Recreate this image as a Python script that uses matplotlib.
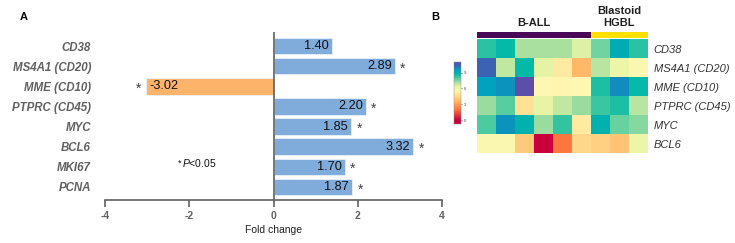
import matplotlib
matplotlib.use("Agg")
import matplotlib.pyplot as plt
import numpy as np
from matplotlib.colors import LinearSegmentedColormap, ListedColormap

plt.rcParams['font.family'] = ['Liberation Sans', 'DejaVu Sans']
plt.rcParams['mathtext.fontset'] = 'custom'
plt.rcParams['mathtext.it'] = 'Liberation Sans:italic'
plt.rcParams['mathtext.rm'] = 'Liberation Sans'

# ---- Panel A data ----
genes_a = ["CD38", "MS4A1 (CD20)", "MME (CD10)", "PTPRC (CD45)", "MYC", "BCL6", "MKI67", "PCNA"]
fold_change = [1.40, 2.89, -3.02, 2.20, 1.85, 3.32, 1.70, 1.87]
significant = [False, True, True, True, True, True, True, True]
xticks_a = [-4, -2, 0, 2, 4]

# ---- Panel B data ----
genes_b = ["CD38", "MS4A1 (CD20)", "MME (CD10)", "PTPRC (CD45)", "MYC", "BCL6"]
groups = ["B-ALL"] * 6 + ["Blastoid\nHGBL"] * 3
expr = [
    [8.2, 8.6, 7.0, 7.0, 7.0, 6.4, 7.5, 9.0, 8.2],
    [10.2, 6.7, 8.6, 6.3, 5.0, 3.5, 6.8, 6.0, 5.6],
    [9.3, 9.5, 10.8, 5.5, 5.4, 5.5, 8.3, 9.6, 8.6],
    [7.1, 7.7, 4.7, 6.2, 6.7, 7.1, 8.0, 8.3, 6.8],
    [7.8, 9.5, 8.8, 7.1, 8.1, 5.0, 8.8, 7.6, 7.3],
    [5.6, 5.6, 4.0, 0.0, 2.0, 4.4, 4.2, 3.8, 6.0],
]
cbar_ticks = [0, 3, 6, 9]

fig = plt.figure(figsize=(7.35, 2.43), dpi=100)
W, H = 735, 243

def ax_px(x0, y0, x1, y1):
    return fig.add_axes([x0 / W, 1 - y1 / H, (x1 - x0) / W, (y1 - y0) / H])

# ---------------- Panel A ----------------
axA = ax_px(105, 32, 442, 200)
n = len(genes_a)
ypos = np.arange(n)
colors = ["#fdb46a" if v < 0 else "#80acdc" for v in fold_change]
axA.barh(ypos, fold_change, height=0.82, color=colors, edgecolor="#e8f0f8", linewidth=0.6, zorder=2)
axA.set_xlim(-4, 4)
axA.set_ylim(n - 0.35, -0.7)
axA.set_yticks(ypos)
axA.set_yticklabels(genes_a, fontsize=8.3, fontweight="bold", fontstyle="italic", color="#606060")
axA.tick_params(axis="y", length=0, pad=10)
axA.set_xticks(xticks_a)
axA.set_xticklabels([str(t) for t in xticks_a], fontsize=7.5, fontweight="bold", color="#606060")
axA.tick_params(axis="x", length=5, width=1.2, color="#606060", pad=3)
for s in ["top", "right", "left"]:
    axA.spines[s].set_visible(False)
axA.spines["bottom"].set_color("#606060")
axA.spines["bottom"].set_linewidth(1.2)
axA.axvline(0, color="#606060", lw=1.2, zorder=3)
axA.set_xlabel("Fold change", fontsize=7.5, labelpad=3, color="#202020")

for y, v, sig in zip(ypos, fold_change, significant):
    if v >= 0:
        axA.text(v - 0.08, y, f"{v:.2f}", ha="right", va="center", fontsize=9.2, color="#111111", zorder=4)
        if sig:
            axA.text(v + 0.12, y + 0.12, "*", ha="left", va="center", fontsize=10, color="#404040")
    else:
        axA.text(v + 0.08, y, f"{v:.2f}", ha="left", va="center", fontsize=9.2, color="#111111", zorder=4)
        if sig:
            axA.text(v - 0.12, y + 0.12, "*", ha="right", va="center", fontsize=10, color="#404040")

axA.text(-2.27, 5.8, "*", ha="left", va="center", fontsize=6.5, color="#111111")
axA.text(-2.18, 5.8, "$\\it{P}$<0.05", ha="left", va="center", fontsize=7.5, color="#111111")

fig.text(20 / W, 1 - 17 / H, "A", fontsize=8, fontweight="bold", ha="left", va="center")
fig.text(431 / W, 1 - 17 / H, "B", fontsize=8, fontweight="bold", ha="left", va="center")

# ---------------- Panel B ----------------
cmap = LinearSegmentedColormap.from_list("custom", [
    (0.00, "#c8003c"),
    (0.06, "#c8003c"),
    (0.24, "#ff7c40"),
    (0.36, "#ffb868"),
    (0.45, "#ffdc90"),
    (0.53, "#fff8b4"),
    (0.60, "#e4f4a4"),
    (0.66, "#a8e0a0"),
    (0.74, "#40c8a0"),
    (0.80, "#00b8a8"),
    (0.86, "#00a0c0"),
    (0.93, "#3a64b4"),
    (1.00, "#6848a8"),
])
vmin, vmax = -0.75, 11.0

axH = ax_px(477, 39, 648, 153)
data = np.array(expr)
axH.imshow(data, cmap=cmap, vmin=vmin, vmax=vmax, aspect="auto", interpolation="nearest")
axH.set_xticks([])
axH.set_yticks(range(len(genes_b)))
axH.set_yticklabels(genes_b, fontsize=8, fontstyle="italic", color="#333333")
axH.yaxis.tick_right()
axH.tick_params(axis="y", length=0, pad=4)
for s in axH.spines.values():
    s.set_visible(False)

# group annotation bar
axG = ax_px(477, 32, 648, 38)
grp_names = ["B-ALL", "Blastoid\nHGBL"]
grp_idx = [[grp_names.index(g) for g in groups]]
axG.imshow(grp_idx, cmap=ListedColormap(["#4a0858", "#ffe000"]), vmin=0, vmax=1, aspect="auto", interpolation="nearest")
axG.set_xticks([]); axG.set_yticks([])
for s in axG.spines.values():
    s.set_visible(False)
for gname in grp_names:
    cols = [i for i, g in enumerate(groups) if g == gname]
    cx = (min(cols) + max(cols)) / 2
    axG.text(cx, -1.2, gname, ha="center", va="bottom", fontsize=8, fontweight="bold",
             color="#202020", linespacing=1.2)

# colorbar
axC = ax_px(454, 62, 461, 124)
grad = np.linspace(vmax, vmin, 256).reshape(-1, 1)
axC.imshow(grad, cmap=cmap, vmin=vmin, vmax=vmax, aspect="auto",
           extent=[0, 1, vmin, vmax])
axC.set_xticks([])
axC.yaxis.tick_right()
axC.set_yticks(cbar_ticks)
axC.set_yticklabels([str(t) for t in cbar_ticks], fontsize=3, color="#444444")
axC.tick_params(axis="y", length=1, width=0.4, pad=1)
for s in axC.spines.values():
    s.set_linewidth(0.3)
    s.set_color("#888888")

fig.savefig("out.png", dpi=100)
